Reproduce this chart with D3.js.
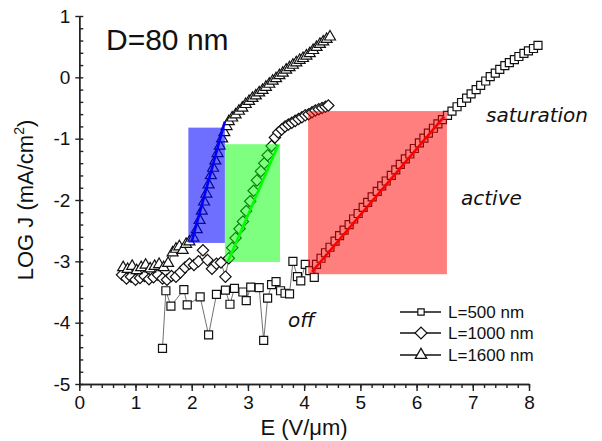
<!DOCTYPE html>
<html lang="en">
<head>
<meta charset="UTF-8">
<title>LOG J vs E, D=80 nm</title>
<script src="https://d3js.org/d3.v7.min.js"></script>
<style>
  body { margin: 0; background: #fff; }
  svg { display: block; font-family: "Liberation Sans", Arial, sans-serif; }
  .axis path, .axis line { stroke: #222; stroke-width: 1.4px; }
  .axis text { font-size: 19px; fill: #111; font-family: "Liberation Sans", Arial, sans-serif; }
  .conn { fill: none; stroke: #333; stroke-width: 0.7px; }
  .mark { fill: #fff; stroke: #111; stroke-width: 1.2px; }
  .region-note { font-family: "DejaVu Sans", Verdana, sans-serif; font-style: italic; font-size: 20px; fill: #111; }
</style>
</head>
<body>
<svg id="chart" width="602" height="441"></svg>
<script>
// L=500 nm (squares): off, active, saturation
const e500 = [1.48,1.54,1.63,1.86,1.92,2.15,2.30,2.44,2.60,2.68,2.76,2.91,2.97,3.05,3.20,3.28,3.35,3.42,3.50,3.58,3.66,3.74,3.80,3.88,3.94,4.02,4.10,4.18,
  4.22,4.30,4.38,4.46,4.55,4.63,4.71,4.80,4.88,4.96,5.05,5.13,5.21,5.30,5.38,5.46,5.55,5.63,5.71,5.80,5.88,5.96,6.05,6.13,6.21,6.30,6.38,6.46,
  6.55,6.63,6.72,6.80,6.89,6.97,7.06,7.14,7.23,7.31,7.40,7.48,7.57,7.65,7.74,7.82,7.91,7.99,8.08,8.16];
const j500 = [-4.42,-3.48,-3.73,-3.46,-3.71,-3.58,-4.20,-3.54,-3.47,-3.70,-3.44,-3.50,-3.64,-3.42,-3.43,-4.29,-3.60,-3.38,-3.33,-3.48,-3.52,-3.53,-3.00,-3.25,-3.32,-3.05,-3.15,-3.26,
  -3.05,-2.95,-2.86,-2.77,-2.67,-2.58,-2.49,-2.40,-2.31,-2.22,-2.12,-2.04,-1.95,-1.86,-1.77,-1.69,-1.60,-1.51,-1.42,-1.33,-1.25,-1.16,-1.07,-0.99,-0.91,-0.83,-0.76,-0.69,
  -0.62,-0.55,-0.48,-0.41,-0.34,-0.27,-0.20,-0.13,-0.06,0.01,0.07,0.13,0.19,0.24,0.29,0.34,0.39,0.43,0.47,0.52];

// L=1000 nm (diamonds)
const e1000 = [0.76,0.84,0.92,1.00,1.08,1.16,1.24,1.32,1.40,1.48,1.56,1.64,1.72,1.80,1.88,1.96,2.04,2.12,2.20,2.28,2.36,2.44,2.52,2.60,
  2.66,2.72,2.78,2.85,2.91,2.97,3.04,3.10,3.16,3.23,3.29,3.35,3.42,3.48,
  3.54,3.60,3.66,3.72,3.78,3.84,3.90,3.96,4.02,4.08,4.14,4.20,4.26,4.32,4.38,4.43];
const j1000 = [-3.22,-3.28,-3.25,-3.30,-3.27,-3.24,-3.29,-3.26,-3.22,-3.28,-3.30,-3.24,-3.25,-3.18,-3.10,-3.04,-3.06,-3.00,-2.82,-2.98,-3.12,-3.04,-3.02,-3.25,
  -2.95,-2.78,-2.62,-2.47,-2.35,-2.18,-2.02,-1.85,-1.68,-1.53,-1.40,-1.27,-1.12,-0.98,
  -0.90,-0.85,-0.80,-0.77,-0.74,-0.71,-0.68,-0.65,-0.62,-0.60,-0.57,-0.54,-0.52,-0.50,-0.48,-0.46];

// L=1600 nm (triangles)
const e1600 = [0.78,0.86,0.94,1.02,1.10,1.18,1.26,1.34,1.42,1.50,1.58,1.66,1.72,1.78,1.84,1.90,1.96,
  2.03,2.09,2.14,2.18,2.22,2.26,2.30,2.34,2.38,2.42,2.46,2.50,2.54,2.58,2.62,
  2.66,2.72,2.78,2.84,2.90,2.96,3.02,3.08,3.14,3.20,3.26,3.32,3.38,3.44,3.50,3.56,3.62,3.68,3.74,3.80,3.86,3.92,3.98,4.04,4.10,4.16,4.22,4.28,4.34,4.40,4.46];
const j1600 = [-3.10,-3.13,-3.08,-3.15,-3.10,-3.06,-3.12,-3.08,-3.05,-3.10,-3.03,-2.86,-2.80,-2.76,-2.82,-2.72,-2.68,
  -2.62,-2.48,-2.33,-2.18,-2.03,-1.90,-1.75,-1.60,-1.48,-1.36,-1.24,-1.12,-1.00,-0.90,-0.80,
  -0.72,-0.66,-0.61,-0.55,-0.50,-0.44,-0.39,-0.34,-0.30,-0.25,-0.21,-0.16,-0.11,-0.06,-0.02,0.03,0.07,0.12,0.16,0.20,0.24,0.28,0.31,0.35,0.39,0.44,0.49,0.54,0.58,0.62,0.66];

// shaded active regions and linear fits (blue, green, red)
const regionColor = ['#0000ff', '#00ff00', '#ff0000'];
const regionOpacity = [0.57, 0.5, 0.5];
const regionE0 = [1.94, 2.59, 4.07];
const regionE1 = [2.59, 3.57, 6.54];
const regionJ0 = [-2.70, -3.01, -3.21];
const regionJ1 = [-0.82, -1.09, -0.55];
const fitE0 = [2.00, 2.64, 4.14];
const fitE1 = [2.59, 3.54, 6.49];
const fitJ0 = [-2.68, -3.01, -3.17];
const fitJ1 = [-0.72, -1.10, -0.64];

const legendLabels = ['L=500 nm', 'L=1000 nm', 'L=1600 nm'];

const svg = d3.select('#chart');
const x = d3.scaleLinear().domain([0, 8]).range([79.3, 529]);
const y = d3.scaleLinear().domain([-5, 1]).range([384, 16]);

// marker shapes
const squarePath = d3.symbol().type(d3.symbolSquare).size(64)();
const diamondPath = d3.symbol().type(d3.symbolSquare).size(64)();
const trianglePath = d3.symbol().type(d3.symbolTriangle).size(52)();

const series = [
  { pts: d3.zip(e500, j500), path: squarePath, rot: 0 },
  { pts: d3.zip(e1000, j1000), path: diamondPath, rot: 45 },
  { pts: d3.zip(e1600, j1600), path: trianglePath, rot: 0 }
];

// axes
const xMinor = d3.axisBottom(x).tickValues(d3.range(0, 8.001, 0.2)).tickSize(4).tickFormat('').tickSizeOuter(0);
const xMajor = d3.axisBottom(x).tickValues(d3.range(0, 9, 1)).tickSize(7).tickPadding(5).tickSizeOuter(0)
  .tickFormat(d => String(d));
svg.append('g').attr('class', 'axis').attr('transform', 'translate(0,384)').call(xMinor);
svg.append('g').attr('class', 'axis').attr('transform', 'translate(0,384)').call(xMajor);

const yMinor = d3.axisRight(y).tickValues(d3.range(-5, 1.001, 0.2)).tickSize(4).tickFormat('').tickSizeOuter(0);
const yMajor = d3.axisLeft(y).tickValues(d3.range(-5, 2, 1)).tickSize(4).tickPadding(5).tickSizeOuter(0)
  .tickFormat(d => String(d));
svg.append('g').attr('class', 'axis').attr('transform', 'translate(79.3,0)').call(yMinor);
svg.append('g').attr('class', 'axis').attr('transform', 'translate(79.3,0)').call(yMajor);

// data: connecting lines + markers
const line = d3.line().x(d => x(d[0])).y(d => y(d[1]));
series.forEach(s => {
  svg.append('path').attr('class', 'conn').attr('d', line(s.pts));
  svg.append('g').selectAll('path')
    .data(s.pts)
    .enter().append('path')
    .attr('class', 'mark')
    .attr('d', s.path)
    .attr('transform', d => `translate(${x(d[0])},${y(d[1])}) rotate(${s.rot})`);
});

// shaded regions
regionColor.forEach((c, i) => {
  svg.append('rect')
    .attr('x', x(regionE0[i]))
    .attr('y', y(regionJ1[i]))
    .attr('width', x(regionE1[i]) - x(regionE0[i]))
    .attr('height', y(regionJ0[i]) - y(regionJ1[i]))
    .attr('fill', c)
    .attr('opacity', regionOpacity[i]);
});

// linear fits
regionColor.forEach((c, i) => {
  svg.append('line')
    .attr('x1', x(fitE0[i])).attr('y1', y(fitJ0[i]))
    .attr('x2', x(fitE1[i])).attr('y2', y(fitJ1[i]))
    .attr('stroke', c)
    .attr('stroke-width', 2.6);
});

// labels
svg.append('text').attr('x', 106).attr('y', 50).attr('font-size', 30).attr('fill', '#111').text('D=80 nm');
svg.append('text').attr('class', 'region-note').attr('x', 486).attr('y', 122).text('saturation');
svg.append('text').attr('class', 'region-note').attr('x', 461).attr('y', 205).text('active');
svg.append('text').attr('class', 'region-note').attr('x', 288).attr('y', 327).text('off');

svg.append('text')
  .attr('x', 304).attr('y', 435)
  .attr('text-anchor', 'middle')
  .attr('font-size', 22).attr('fill', '#111')
  .text('E (V/\u03bcm)');

const yTitle = svg.append('text')
  .attr('transform', 'translate(33,200) rotate(-90)')
  .attr('text-anchor', 'middle')
  .attr('font-size', 22).attr('fill', '#111');
yTitle.append('tspan').text('LOG J (mA/cm');
yTitle.append('tspan').attr('font-size', 14).attr('dy', -9).text('2');
yTitle.append('tspan').attr('dy', 9).text(')');

// legend
const legend = svg.append('g').attr('transform', 'translate(400,0)');
const legendY = [312, 333, 355];
series.forEach((s, i) => {
  legend.append('line')
    .attr('x1', 0).attr('x2', 41)
    .attr('y1', legendY[i]).attr('y2', legendY[i])
    .attr('stroke', '#111').attr('stroke-width', 1.3);
  legend.append('path')
    .attr('class', 'mark')
    .attr('d', i === 0 ? d3.symbol().type(d3.symbolSquare).size(40)() : s.path)
    .attr('transform', `translate(21,${legendY[i]}) rotate(${s.rot})${i > 0 ? ' scale(1.05)' : ''}`);
  legend.append('text')
    .attr('x', 48).attr('y', legendY[i] + 6)
    .attr('font-size', 17).attr('fill', '#111')
    .text(legendLabels[i]);
});
</script>
</body>
</html>
